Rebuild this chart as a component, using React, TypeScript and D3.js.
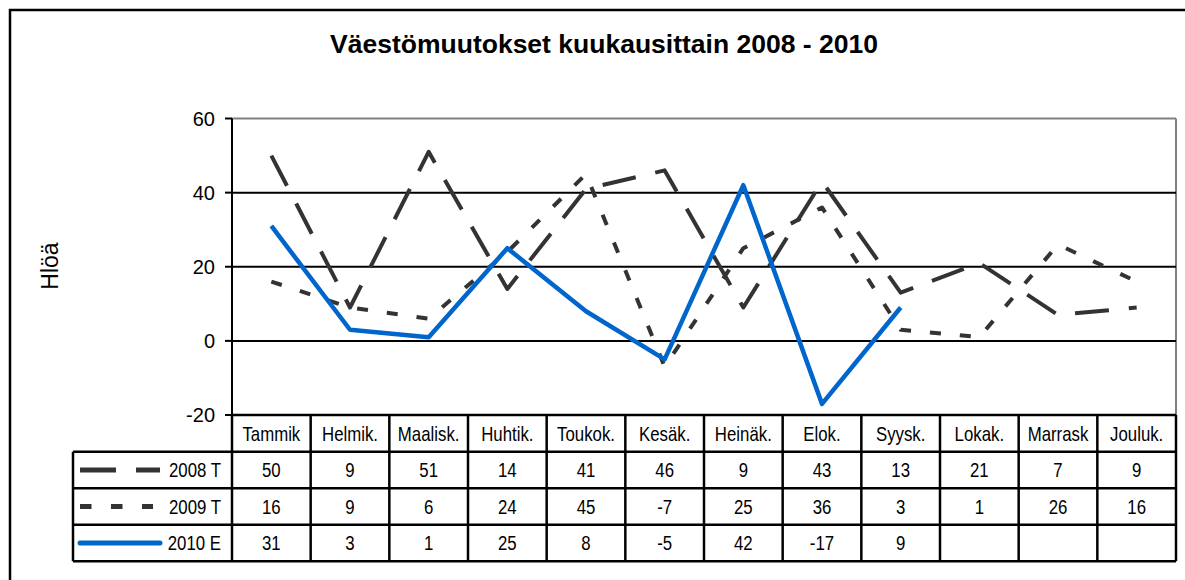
import React from 'react';
import * as d3 from 'd3';

const MONTHS = ['Tammik', 'Helmik.', 'Maalisk.', 'Huhtik.', 'Toukok.', 'Kesäk.', 'Heinäk.', 'Elok.', 'Syysk.', 'Lokak.', 'Marrask', 'Jouluk.'];
const VALUES_2008 = [50, 9, 51, 14, 41, 46, 9, 43, 13, 21, 7, 9];
const VALUES_2009 = [16, 9, 6, 24, 45, -7, 25, 36, 3, 1, 26, 16];
const VALUES_2010: (number | null)[] = [31, 3, 1, 25, 8, -5, 42, -17, 9, null, null, null];
const SERIES_NAMES = ['2008 T', '2009 T', '2010 E'];
const Y_TICKS = [-20, 0, 20, 40, 60];

const W = 1185;
const H = 580;
const plot = { left: 232, right: 1176, top: 118.5, bottom: 415 };
const tableLeft = 73;
const headerH = 36.7;
const rowH = 36.5;

const SANS = "'Liberation Sans', Arial, sans-serif";

const series = [
  { name: SERIES_NAMES[0], values: VALUES_2008 as (number | null)[], color: '#333333', width: 4, dash: '34,20', legendDash: '36,20', legendEnd: 160 },
  { name: SERIES_NAMES[1], values: VALUES_2009 as (number | null)[], color: '#333333', width: 4, dash: '11,19', legendDash: '11.5,19.5', legendEnd: 153 },
  { name: SERIES_NAMES[2], values: VALUES_2010, color: '#0066cc', width: 4.5, dash: undefined as string | undefined, legendDash: undefined as string | undefined, legendEnd: 160 },
];

// no narrow font installed, so squeeze the regular one
const Narrow: React.FC<{ x: number; y: number; anchor?: string; children: React.ReactNode }> = ({ x, y, anchor = 'middle', children }) => (
  <text
    transform={`translate(${x},${y}) scale(0.82,1)`}
    dy="0.36em"
    textAnchor={anchor}
    fontFamily={SANS}
    fontSize={20.5}
  >
    {children}
  </text>
);

const App: React.FC = () => {
  const x = d3.scaleBand<string>().domain(MONTHS).range([plot.left, plot.right]).padding(0);
  const y = d3.scaleLinear().domain([-20, 60]).range([plot.bottom, plot.top]);
  const cx = (m: string) => (x(m) ?? 0) + x.bandwidth() / 2;

  const line = d3
    .line<number | null>()
    .defined((d) => d !== null)
    .x((_, i) => cx(MONTHS[i]))
    .y((d) => y(d as number));

  const tableTop = plot.bottom;
  const rowsTop = tableTop + headerH;
  const tableBottom = rowsTop + rowH * series.length;

  return (
    <svg width={W} height={H} style={{ position: 'absolute', left: 0, top: 0, background: '#fff' }}>
      {/* outer frame */}
      <rect x={10} y={10} width={1200} height={620} fill="none" stroke="#000" strokeWidth={2.5} />

      <text x={604} y={53} textAnchor="middle" fontFamily={SANS} fontWeight="bold" fontSize={26.5}>
        Väestömuutokset kuukausittain 2008 - 2010
      </text>

      <text transform="translate(58,266) rotate(-90)" textAnchor="middle" fontFamily={SANS} fontSize={23}>
        Hlöä
      </text>

      {/* plot area border */}
      <line x1={plot.left} x2={plot.right} y1={plot.top} y2={plot.top} stroke="#808080" strokeWidth={2} />
      <line x1={plot.right} x2={plot.right} y1={plot.top} y2={plot.bottom} stroke="#808080" strokeWidth={2} />

      {/* grid lines */}
      {Y_TICKS.filter((t) => t > -20 && t < 60).map((t) => (
        <line key={t} x1={plot.left} x2={plot.right} y1={y(t)} y2={y(t)} stroke="#000" strokeWidth={2} />
      ))}

      {/* y axis */}
      <line x1={plot.left} x2={plot.left} y1={plot.top} y2={plot.bottom} stroke="#000" strokeWidth={2} />
      {Y_TICKS.map((t) => (
        <g key={t}>
          <line x1={plot.left - 7} x2={plot.left} y1={y(t)} y2={y(t)} stroke="#000" strokeWidth={2} />
          <text x={215} y={y(t)} dy="0.36em" textAnchor="end" fontFamily={SANS} fontSize={20}>
            {t}
          </text>
        </g>
      ))}

      {/* series lines */}
      {series.map((s) => (
        <path
          key={s.name}
          d={line(s.values) ?? ''}
          fill="none"
          stroke={s.color}
          strokeWidth={s.width}
          strokeDasharray={s.dash}
          strokeLinejoin="round"
        />
      ))}

      {/* data table */}
      <g stroke="#000" strokeWidth={2.5}>
        <line x1={plot.left} x2={plot.right} y1={tableTop} y2={tableTop} />
        {series.map((_, i) => (
          <line key={i} x1={tableLeft} x2={plot.right} y1={rowsTop + rowH * i} y2={rowsTop + rowH * i} />
        ))}
        <line x1={tableLeft} x2={plot.right} y1={tableBottom} y2={tableBottom} />
        <line x1={tableLeft} x2={tableLeft} y1={rowsTop} y2={tableBottom} />
        {MONTHS.map((m) => (
          <line key={m} x1={x(m)} x2={x(m)} y1={tableTop} y2={tableBottom} />
        ))}
        <line x1={plot.right} x2={plot.right} y1={tableTop} y2={tableBottom} />
      </g>

      {MONTHS.map((m) => (
        <Narrow key={m} x={cx(m)} y={tableTop + headerH / 2}>
          {m}
        </Narrow>
      ))}

      {series.map((s, i) => {
        const my = rowsTop + rowH * i + rowH / 2;
        return (
          <g key={s.name}>
            <line
              x1={80}
              x2={s.legendEnd}
              y1={my}
              y2={my}
              stroke={s.color}
              strokeWidth={5}
              strokeDasharray={s.legendDash}
              strokeLinecap={s.legendDash ? 'butt' : 'round'}
            />
            <Narrow x={221} y={my} anchor="end">
              {s.name}
            </Narrow>
            {s.values.map((v, j) =>
              v === null ? null : (
                <Narrow key={j} x={cx(MONTHS[j])} y={my}>
                  {v}
                </Narrow>
              )
            )}
          </g>
        );
      })}
    </svg>
  );
};

export default App;
